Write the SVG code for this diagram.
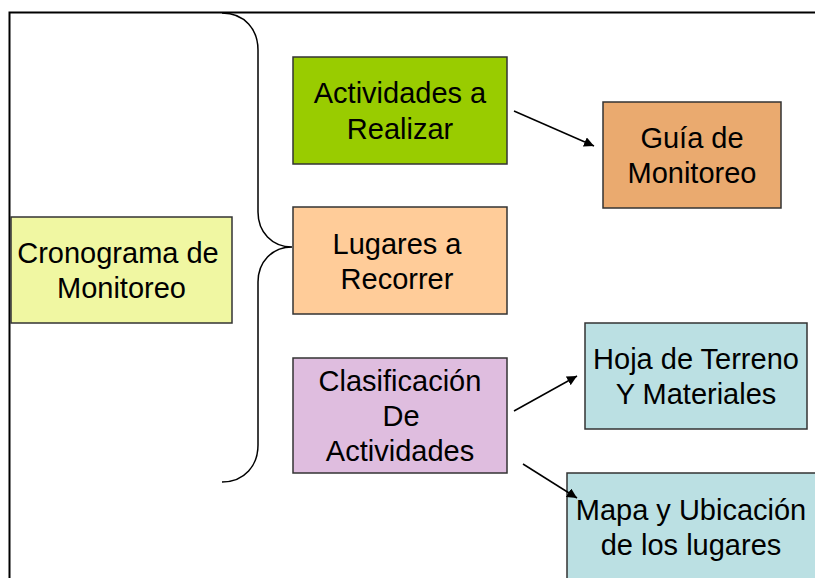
<svg xmlns="http://www.w3.org/2000/svg" width="815" height="578" viewBox="0 0 815 578">
<defs>
<style>
.box{stroke:#333;stroke-width:1.5}
.t{font-family:"Liberation Sans",Arial,sans-serif;font-size:29px;fill:#000;text-anchor:middle}
.c{stroke:#000;stroke-width:1.5;fill:none}
</style>
<marker id="ah" viewBox="0 0 10 10" refX="10" refY="5" markerWidth="10" markerHeight="10" markerUnits="userSpaceOnUse" orient="auto">
<path d="M0,0 L10,5 L0,10 z" fill="#000"/>
</marker>
</defs>
<rect width="815" height="578" fill="#fff"/>
<g id="frame" fill="none" stroke="#000" stroke-width="2">
<path d="M9.5,578 L9.5,12.5 L815,12.5"/>
</g>
<g id="brace">
<path class="c" d="M222,13 C245,13 258,30 258,50 L258,212 C258,232 272,247 292,247 C272,247 258,262 258,282 L258,445 C258,465 245,482 222,482"/>
</g>
<g id="cronograma">
<rect class="box" x="11" y="217" width="221" height="106" fill="#F0F7A2"/>
<text class="t" x="118" y="263">Cronograma de</text>
<text class="t" x="121.5" y="298">Monitoreo</text>
</g>
<g id="actividades">
<rect class="box" x="293" y="57" width="214" height="107" fill="#99CC00"/>
<text class="t" x="400" y="103">Actividades a</text>
<text class="t" x="400" y="139">Realizar</text>
</g>
<g id="lugares">
<rect class="box" x="293" y="207" width="214" height="107" fill="#FFCC99"/>
<text class="t" x="397" y="254">Lugares a</text>
<text class="t" x="397" y="289">Recorrer</text>
</g>
<g id="clasificacion">
<rect class="box" x="293" y="358" width="214" height="115" fill="#DFBDDF"/>
<text class="t" x="400" y="391">Clasificación</text>
<text class="t" x="401" y="426">De</text>
<text class="t" x="400" y="461">Actividades</text>
</g>
<g id="guia">
<rect class="box" x="603" y="102" width="178" height="106" fill="#EAAA6F"/>
<text class="t" x="692" y="148">Guía de</text>
<text class="t" x="692" y="183">Monitoreo</text>
</g>
<g id="hoja">
<rect class="box" x="585" y="323" width="222" height="106" fill="#BBE0E3"/>
<text class="t" x="696" y="369">Hoja de Terreno</text>
<text class="t" x="696" y="404">Y Materiales</text>
</g>
<g id="mapa">
<rect class="box" x="567" y="473" width="252" height="120" fill="#BBE0E3"/>
<text class="t" x="691" y="520">Mapa y Ubicación</text>
<text class="t" x="691" y="555">de los lugares</text>
</g>
<g id="connectors">
<line class="c" x1="514" y1="111" x2="594" y2="146" marker-end="url(#ah)"/>
<line class="c" x1="514" y1="411" x2="577" y2="376" marker-end="url(#ah)"/>
<line class="c" x1="523" y1="464" x2="577" y2="498" marker-end="url(#ah)"/>
</g>
</svg>
